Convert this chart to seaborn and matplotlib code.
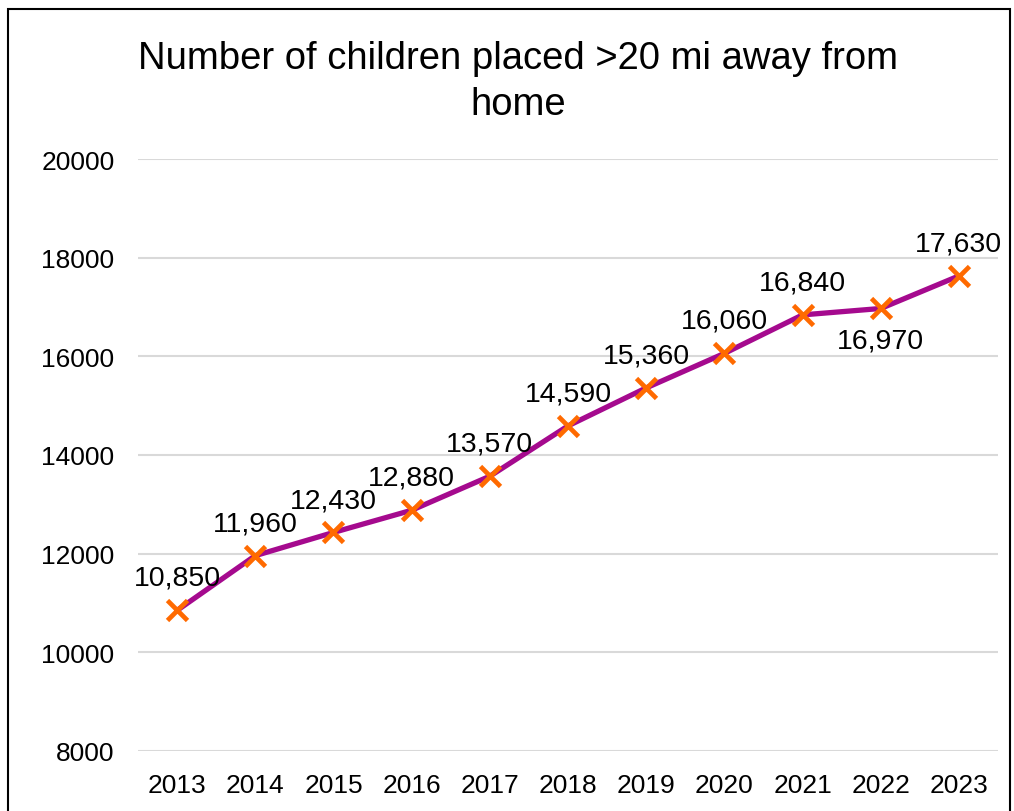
import matplotlib
matplotlib.use("Agg")
import matplotlib.pyplot as plt
import seaborn as sns
import pandas as pd
from matplotlib import font_manager
from matplotlib.patches import Rectangle

years = ["2013", "2014", "2015", "2016", "2017", "2018", "2019", "2020", "2021", "2022", "2023"]
children = [10850, 11960, 12430, 12880, 13570, 14590, 15360, 16060, 16840, 16970, 17630]
label_below = ["2022"]
y_ticks = [8000, 10000, 12000, 14000, 16000, 18000, 20000]
title = "Number of children placed >20 mi away from\nhome"

sns.set_theme(style="white")
names = {f.name for f in font_manager.fontManager.ttflist}
body_font = "Liberation Sans" if "Liberation Sans" in names else "DejaVu Sans"
plt.rcParams["font.family"] = [body_font, "DejaVu Sans"]
plt.rcParams["text.color"] = "black"

df = pd.DataFrame({"year": years, "children": children})

fig = plt.figure(figsize=(10.14, 8.12), dpi=100)
ax = fig.add_axes([138 / 1014, 1 - 752 / 812, 860 / 1014, 592 / 812])

sns.lineplot(data=df, x="year", y="children", ax=ax, color="#A50A8E", linewidth=3.8,
             marker="x", markersize=14, markeredgewidth=3.4, markeredgecolor="#FF6A00",
             sort=False)

ax.set_ylim(8000, 20000)
ax.set_xlim(-0.5, len(years) - 0.5)
ax.set_yticks(y_ticks)
ax.set_yticklabels([str(v) for v in y_ticks])
ax.grid(axis="y", color="#D9D9D9", linewidth=1.5)
ax.set_axisbelow(True)
for s in ax.spines.values():
    s.set_visible(False)
ax.tick_params(axis="both", length=0, labelsize=19, colors="black")
ax.tick_params(axis="y", pad=17)
ax.tick_params(axis="x", pad=16)
ax.set_xlabel("")
ax.set_ylabel("")

for i, (yr, v) in enumerate(zip(years, children)):
    if yr in label_below:
        ax.annotate(f"{v:,}", (i, v), xytext=(0, -14), textcoords="offset points",
                    ha="center", va="top", fontsize=20.5, color="black")
    else:
        ax.annotate(f"{v:,}", (i, v), xytext=(0, 14), textcoords="offset points",
                    ha="center", va="bottom", fontsize=20.5, color="black")

fig.text(518 / 1014, 1 - 82 / 812, title, ha="center", va="center", fontsize=27.5,
         color="black", linespacing=1.35)

fig.patches.append(Rectangle((8 / 1014, -0.05), 1002 / 1014, 1.05 - 10 / 812,
                             transform=fig.transFigure, fill=False, edgecolor="black",
                             linewidth=1.5))

fig.savefig("out.png", dpi=100)
